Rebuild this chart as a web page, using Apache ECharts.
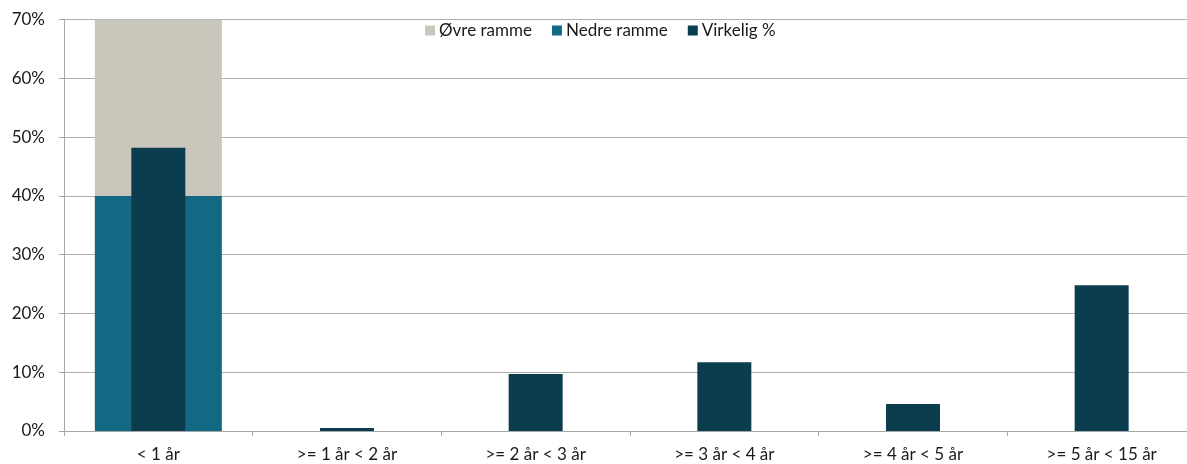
<!DOCTYPE html>
<html><head><meta charset="utf-8">
<script src="https://cdn.jsdelivr.net/npm/echarts@6/dist/echarts.min.js"></script>
<style>html,body{margin:0;padding:0;background:#fff}#c{width:1187px;height:464px}</style>
</head><body><div id="c"></div>
<script>
const categories = ['< 1 år', '>= 1 år < 2 år', '>= 2 år < 3 år', '>= 3 år < 4 år', '>= 4 år < 5 år', '>= 5 år < 15 år'];
const nedreRamme = [40, null, null, null, null, null];
const ovreRamme = [30, null, null, null, null, null];
const virkelig = [48.2, 0.5, 9.7, 11.7, 4.6, 24.8];
const yTicks = [0, 10, 20, 30, 40, 50, 60, 70];

const font = 'Lato, "Open Sans", sans-serif';
const chart = echarts.init(document.getElementById('c'));
chart.setOption({
  animation: false,
  textStyle: { fontFamily: font },
  legend: {
    left: 420, top: 17, itemWidth: 10, itemHeight: 10, itemGap: 20,
    icon: 'rect',
    textStyle: { fontSize: 17, color: '#1a1a1a', fontFamily: font, padding: [0, 0, 0, -1] },
    data: ['Øvre ramme', 'Nedre ramme', 'Virkelig %']
  },
  grid: { left: 64, top: 19.6, width: 1132, height: 411.4, outerBoundsMode: 'none', containLabel: false },
  xAxis: [{
    type: 'category', data: categories,
    axisLine: { lineStyle: { color: '#A6A6A6', width: 1 } },
    axisTick: { show: true, length: 5, lineStyle: { color: '#A6A6A6' } },
    axisLabel: { fontSize: 17, color: '#1a1a1a', margin: 15, fontFamily: font }
  }, {
    type: 'category', data: categories, show: false
  }],
  yAxis: {
    type: 'value', min: yTicks[0], max: yTicks[yTicks.length - 1], interval: 10,
    axisLine: { show: true, lineStyle: { color: '#A6A6A6' } },
    axisTick: { show: true, length: 5, inside: false, lineStyle: { color: '#A6A6A6' } },
    axisLabel: { formatter: '{value}%', fontSize: 17, color: '#1a1a1a', margin: 19, fontFamily: font },
    splitLine: { lineStyle: { color: '#AFAFAF', width: 1 } }
  },
  series: [
    { name: 'Nedre ramme', type: 'bar', stack: 'r', xAxisIndex: 0, data: nedreRamme, barWidth: 127, itemStyle: { color: '#136983' } },
    { name: 'Øvre ramme', type: 'bar', stack: 'r', xAxisIndex: 0, data: ovreRamme, barWidth: 127, itemStyle: { color: '#C9C7BB' } },
    { name: 'Virkelig %', type: 'bar', xAxisIndex: 1, data: virkelig, barWidth: 54, itemStyle: { color: '#0B3D4F' }, z: 3 }
  ]
});
</script></body></html>
